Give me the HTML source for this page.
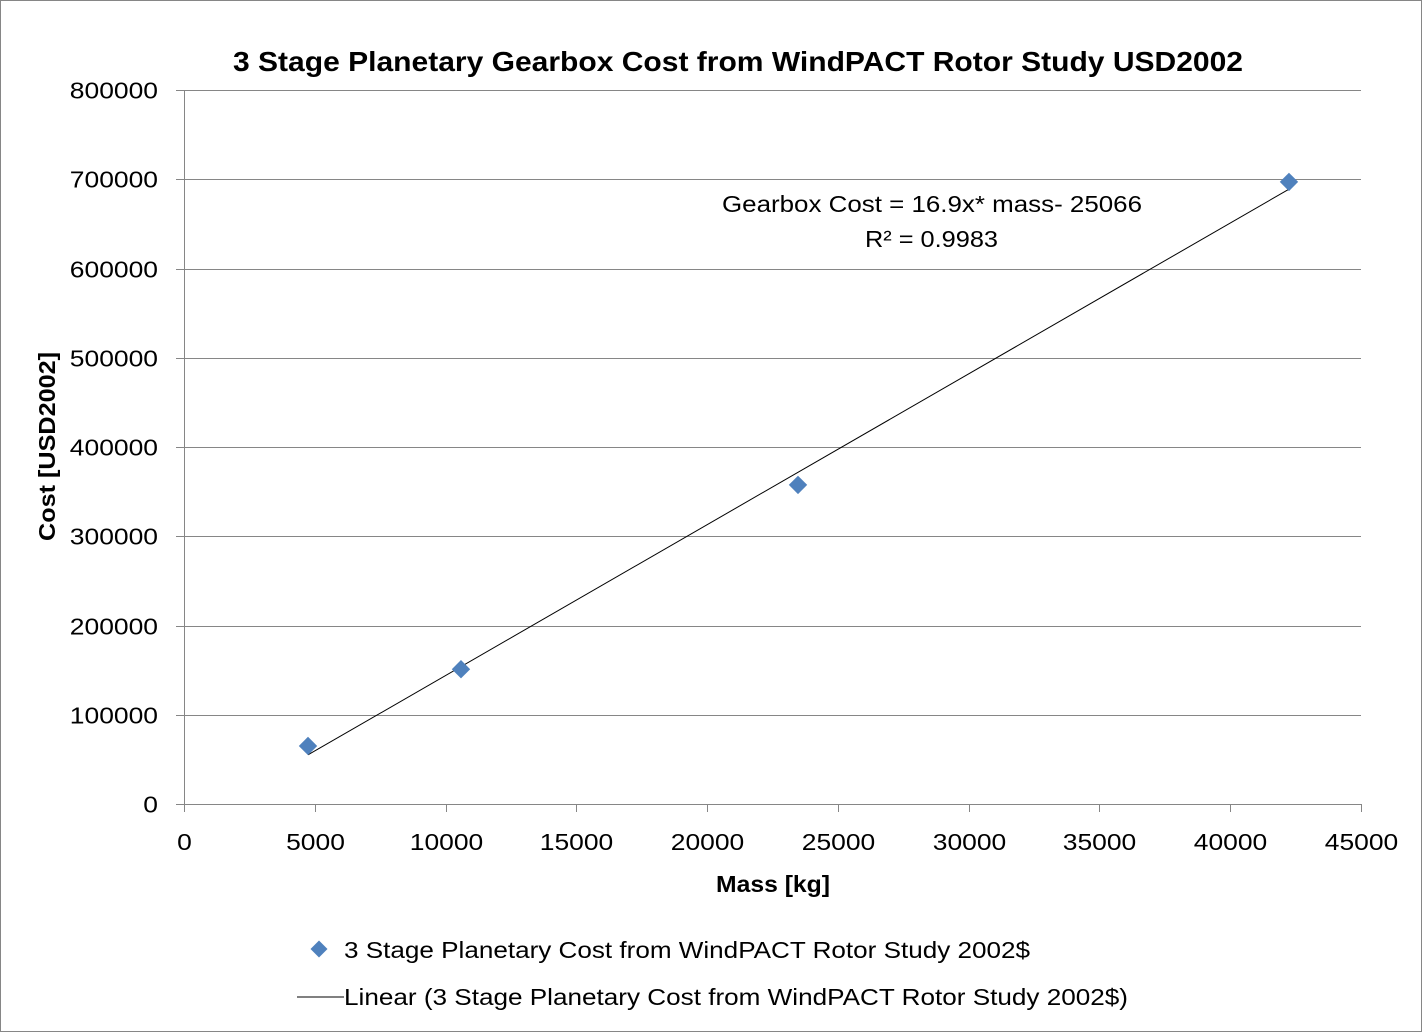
<!DOCTYPE html>
<html><head><meta charset="utf-8"><style>
html,body{margin:0;padding:0;background:#fff;}
svg{display:block;font-family:"Liberation Sans",sans-serif;}
</style></head><body>
<svg id="chart" width="1422" height="1032" viewBox="0 0 1422 1032">
<rect x="0.5" y="0.5" width="1421" height="1031" fill="#fff" stroke="#868686"/>
<text x="233" y="71" font-size="28" font-weight="bold" textLength="1010" lengthAdjust="spacingAndGlyphs">3 Stage Planetary Gearbox Cost from WindPACT Rotor Study USD2002</text>
<g id="grid"></g>
<g id="axes"></g>
<g id="marks"></g>
<text x="722" y="212" font-size="23" textLength="420" lengthAdjust="spacingAndGlyphs">Gearbox Cost = 16.9x* mass- 25066</text>
<text x="865" y="247" font-size="23" textLength="133" lengthAdjust="spacingAndGlyphs">R² = 0.9983</text>
<text x="716" y="892" font-size="23" font-weight="bold" textLength="114" lengthAdjust="spacingAndGlyphs">Mass [kg]</text>
<text transform="translate(55,541) rotate(-90)" font-size="23" font-weight="bold" textLength="189" lengthAdjust="spacingAndGlyphs">Cost [USD2002]</text>
<g>
<rect x="313" y="943" width="12" height="12" fill="#4f81bd" transform="rotate(45 319 949)"/>
<text x="344" y="958" font-size="23" textLength="686" lengthAdjust="spacingAndGlyphs">3 Stage Planetary Cost from WindPACT Rotor Study 2002$</text>
<line x1="297" y1="997" x2="344" y2="997" stroke="#000" stroke-width="1"/>
<text x="344" y="1005" font-size="23" textLength="784" lengthAdjust="spacingAndGlyphs">Linear (3 Stage Planetary Cost from WindPACT Rotor Study 2002$)</text>
</g>
</svg>
<script>
const massKg = [4741, 10590, 23475, 42246];
const costUsd = [65000, 151000, 357500, 697000];
const xTicks = [0,5000,10000,15000,20000,25000,30000,35000,40000,45000];
const yTicks = [0,100000,200000,300000,400000,500000,600000,700000,800000];
const fitSlope = [16.9];
const fitIntercept = [-25066];

const X0=184,X1=1361,Y0=804,Y1=90;
const sx=v=>X0+(v-0)/(45000)*(X1-X0);
const sy=v=>Y0-(v/800000)*(Y0-Y1);
const NS='http://www.w3.org/2000/svg';
function mk(tag,attrs,parent){const e=document.createElementNS(NS,tag);for(const k in attrs)e.setAttribute(k,attrs[k]);parent.appendChild(e);return e;}
const grid=document.getElementById('grid'),axes=document.getElementById('axes'),marks=document.getElementById('marks');
const digitW=14.7;
yTicks.forEach(t=>{
  const y=Math.round(sy(t))+0.5;
  if(t>0){const g=mk('line',{x1:X0,x2:X1,y1:y,y2:y,stroke:'#868686','stroke-width':1},grid);
  
  }
  const tk=mk('line',{x1:X0-8,x2:X0,y1:y,y2:y,stroke:'#868686'},axes);
  
  
  const s=String(t);
  const tx=mk('text',{x:158,y:y+8,'text-anchor':'end','font-size':23,textLength:s.length*digitW,lengthAdjust:'spacingAndGlyphs'},axes);
  tx.textContent=s;
  
  
});
xTicks.forEach(t=>{
  const x=Math.round(sx(t))+0.5;
  const tk=mk('line',{x1:x,x2:x,y1:Y0,y2:Y0+8,stroke:'#868686'},axes);
  
  
  const s=String(t);
  const tx=mk('text',{x:x,y:850,'text-anchor':'middle','font-size':23,textLength:s.length*digitW,lengthAdjust:'spacingAndGlyphs'},axes);
  tx.textContent=s;
  
  
});
const ya=mk('line',{x1:X0+0.5,x2:X0+0.5,y1:Y1,y2:Y0,stroke:'#868686'},axes);


const xa=mk('line',{x1:X0,x2:X1,y1:Y0+0.5,y2:Y0+0.5,stroke:'#868686'},axes);


const xmin=Math.min(...massKg),xmax=Math.max(...massKg);
const f=v=>fitSlope[0]*v+fitIntercept[0];
const tl=mk('line',{x1:sx(xmin),y1:sy(f(xmin)),x2:sx(xmax),y2:sy(f(xmax)),stroke:'#000','stroke-width':1},marks);


massKg.forEach((m,i)=>{
  const cx=sx(m),cy=sy(costUsd[i]);
  const d=mk('rect',{x:cx-6.5,y:cy-6.5,width:13,height:13,fill:'#4f81bd',transform:`rotate(45 ${cx} ${cy})`},marks);
  
  
});
</script>
</body></html>
